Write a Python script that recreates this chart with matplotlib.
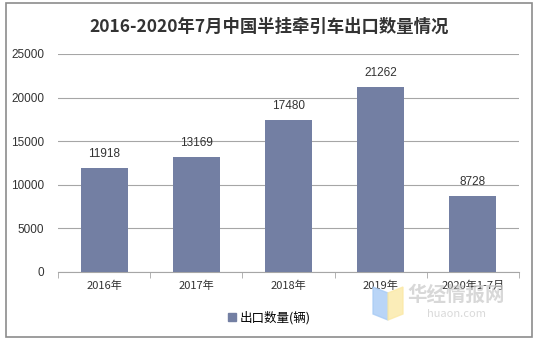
import matplotlib.pyplot as plt
import matplotlib.patches as mpatches
import numpy as np

plt.rcParams['font.family'] = ['Noto Sans CJK SC', 'DejaVu Sans']

years = ['2016年', '2017年', '2018年', '2019年', '2020年1-7月']
exports = [11918, 13169, 17480, 21262, 8728]
yticks = [0, 5000, 10000, 15000, 20000, 25000]

bar_color = '#737fa3'
grid_color = '#a6a6a6'

fig = plt.figure(figsize=(5.39, 3.40), dpi=100)
fig.patches.append(mpatches.Rectangle((6 / 539, 3 / 340), 526 / 539, 334 / 340,
                                      transform=fig.transFigure, fill=False,
                                      edgecolor='#8c8c8c', linewidth=1.2))

ax = fig.add_axes([58 / 539, 68 / 340, 461 / 539, 218 / 340])
x = np.arange(len(years))
bars = ax.bar(x, exports, width=0.51, color=bar_color, zorder=3)
for xi, v in zip(x, exports):
    ax.text(xi, v + 900, str(v), ha='center', va='bottom', fontsize=8.5, color='#333333',
            family='Liberation Sans')

ax.set_xlim(-0.5, len(years) - 0.5)
ax.set_ylim(0, 25000)
ax.set_yticks(yticks)
ax.set_yticklabels([str(t) for t in yticks], family='Liberation Sans', fontsize=8.5, color='#333333')
ax.set_xticks(x)
ax.set_xticklabels(years, fontsize=8, color='#333333')
ax.tick_params(axis='x', length=0, pad=6)
ax.tick_params(axis='y', length=0, pad=10)
# category boundary ticks on the x axis
ax.set_xticks(np.arange(-0.5, len(years)), minor=True)
ax.tick_params(axis='x', which='minor', length=4, color=grid_color)
ax.grid(axis='y', color=grid_color, linewidth=0.8, zorder=0)
for s in ['top', 'right', 'left']:
    ax.spines[s].set_visible(False)
ax.spines['bottom'].set_color(grid_color)

fig.text(0.5, 313 / 340, '2016-2020年7月中国半挂牵引车出口数量情况', ha='center', va='center',
         fontsize=12.5, fontweight='bold', color='#333333')

handle = mpatches.Patch(color=bar_color, label='出口数量(辆)')
fig.legend(handles=[handle], loc='center', bbox_to_anchor=(0.5, 22 / 340), frameon=False,
           fontsize=9, handlelength=0.6, handleheight=0.6, handletextpad=0.3)

# watermark
fig.text(456 / 539, 45 / 340, '华经情报网', ha='center', va='center', fontsize=14,
         fontweight='bold', color='#c8c8c8', alpha=0.7)
fig.text(456 / 539, 26 / 340, 'huaon.com', ha='center', va='center', fontsize=8,
         color='#d0d0d0', alpha=0.8)
fig.patches.append(mpatches.Polygon([[373 / 539, 53 / 340], [388 / 539, 47 / 340],
                                     [388 / 539, 20 / 340], [373 / 539, 26 / 340]],
                                    closed=True, transform=fig.transFigure,
                                    color='#a8cbf5', alpha=0.8))
fig.patches.append(mpatches.Polygon([[388 / 539, 47 / 340], [403 / 539, 53 / 340],
                                     [403 / 539, 26 / 340], [388 / 539, 20 / 340]],
                                    closed=True, transform=fig.transFigure,
                                    color='#fbe9a6', alpha=0.8))

fig.savefig('out.png', dpi=100)
